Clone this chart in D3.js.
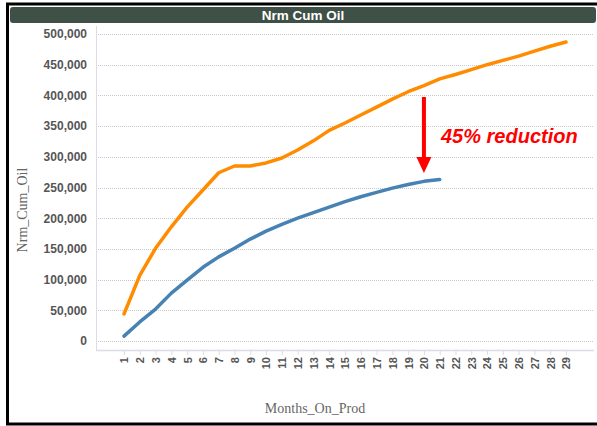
<!DOCTYPE html>
<html>
<head>
<meta charset="utf-8">
<script src="https://cdn.jsdelivr.net/npm/d3@7"></script>
<style>
  html, body { margin: 0; padding: 0; background: #fff; }
  svg { display: block; }
</style>
</head>
<body>
<svg id="chart" width="597" height="426"></svg>
<script>
// Normalised cumulative oil by months on production
const months = d3.range(1, 30);
const upperSeries = [44000, 107000, 151000, 186000, 218000, 246000, 274000, 285000, 285000, 290000,
  298000, 311000, 326000, 343000, 355000, 368000, 381000, 394000, 406000, 416000,
  427000, 434000, 442000, 450000, 457000, 464000, 472000, 480000, 487000];
const lowerSeries = [8000, 31000, 52000, 78000, 99000, 120000, 137000, 151000, 166000, 179000,
  190000, 200000, 209000, 218000, 227000, 235000, 242000, 249000, 255000, 260000, 263000];
const yTicks = [0, 50000, 100000, 150000, 200000, 250000, 300000, 350000, 400000, 450000, 500000];
const chartTitle = "Nrm Cum Oil";
const xTitle = "Months_On_Prod";
const yTitle = "Nrm_Cum_Oil";
const note = "45% reduction";

const svg = d3.select("#chart");
const W = 597, H = 426;

// outer frame
svg.append("rect").attr("x", 7.5).attr("y", 4).attr("width", W + 10).attr("height", 420)
  .attr("fill", "#fff").attr("stroke", "#000").attr("stroke-width", 3);

// title bar
svg.append("rect").attr("x", 10).attr("y", 7).attr("width", 586).attr("height", 16)
  .attr("rx", 3).attr("fill", "#3f5047");
svg.append("text").attr("x", 303).attr("y", 20).attr("text-anchor", "middle")
  .attr("font-family", "Liberation Sans, Arial, sans-serif").attr("font-weight", "bold")
  .attr("font-size", 13.5).attr("fill", "#fff").text(chartTitle);

const plot = { left: 96, right: 594, top: 34, zero: 341, bottom: 350 };

const x = d3.scalePoint().domain(months).range([124, 566]);
const y = d3.scaleLinear().domain([0, 500000]).range([plot.zero, plot.top]);

// horizontal gridlines
svg.append("g").selectAll("line").data(yTicks).join("line")
  .attr("x1", plot.left).attr("x2", plot.right)
  .attr("y1", d => Math.round(y(d)) + 0.5).attr("y2", d => Math.round(y(d)) + 0.5)
  .attr("stroke", "#c8c8c8").attr("stroke-dasharray", "1,1").attr("stroke-width", 1);

// y axis
const yAxis = svg.append("g").attr("transform", `translate(${plot.left},0)`)
  .call(d3.axisLeft(y).tickValues(yTicks).tickSize(0).tickPadding(9)
    .tickFormat(d3.format(",")));
yAxis.select(".domain").remove();
yAxis.append("line").attr("x1", 0.5).attr("x2", 0.5).attr("y1", 26).attr("y2", plot.bottom)
  .attr("stroke", "#dcdce8");
yAxis.selectAll("text").attr("font-family", "Liberation Sans, Arial, sans-serif")
  .attr("font-weight", "bold").attr("font-size", 12).attr("fill", "#555");

// x axis
const xAxis = svg.append("g").attr("transform", `translate(0,${plot.bottom})`)
  .call(d3.axisBottom(x).tickSize(5).tickPadding(6));
xAxis.select(".domain").remove();
xAxis.append("line").attr("x1", plot.left).attr("x2", plot.right).attr("y1", 0.5).attr("y2", 0.5)
  .attr("stroke", "#dcdce8").attr("stroke-width", 1.5);
xAxis.selectAll(".tick line").attr("stroke", "#dcdce8");
xAxis.selectAll(".tick text")
  .attr("transform", "rotate(-90)")
  .attr("x", -7).attr("y", 0).attr("dy", "0.35em")
  .attr("text-anchor", "end")
  .attr("font-family", "Liberation Sans, Arial, sans-serif")
  .attr("font-weight", "bold").attr("font-size", 11).attr("fill", "#555");

// axis titles
svg.append("text").attr("x", 315).attr("y", 413).attr("text-anchor", "middle")
  .attr("font-family", "Liberation Serif, Times New Roman, serif").attr("font-size", 14)
  .attr("fill", "#666").text(xTitle);
svg.append("text").attr("transform", "translate(27,210) rotate(-90)").attr("text-anchor", "middle")
  .attr("font-family", "Liberation Serif, Times New Roman, serif").attr("font-size", 14)
  .attr("fill", "#666").text(yTitle);

// series lines
const line = d3.line().x((d, i) => x(months[i])).y(d => y(d));
svg.append("path").datum(upperSeries).attr("d", line).attr("fill", "none")
  .attr("stroke", "#ff8c00").attr("stroke-width", 3.5).attr("stroke-linejoin", "round").attr("stroke-linecap", "round");
svg.append("path").datum(lowerSeries).attr("d", line).attr("fill", "none")
  .attr("stroke", "#4682b4").attr("stroke-width", 3.5).attr("stroke-linejoin", "round").attr("stroke-linecap", "round");

// reduction arrow and note
const ax = x(20);
svg.append("line").attr("x1", ax).attr("x2", ax).attr("y1", 97).attr("y2", 160)
  .attr("stroke", "#ff0000").attr("stroke-width", 4);
svg.append("path")
  .attr("d", `M${ax - 7.5},157 L${ax + 7.5},157 L${ax},173 Z`)
  .attr("fill", "#ff0000");
svg.append("text").attr("x", 441).attr("y", 143)
  .attr("font-family", "Liberation Sans, Arial, sans-serif").attr("font-weight", "bold")
  .attr("font-style", "italic").attr("font-size", 20).attr("fill", "#ff0000").text(note);
</script>
</body>
</html>
